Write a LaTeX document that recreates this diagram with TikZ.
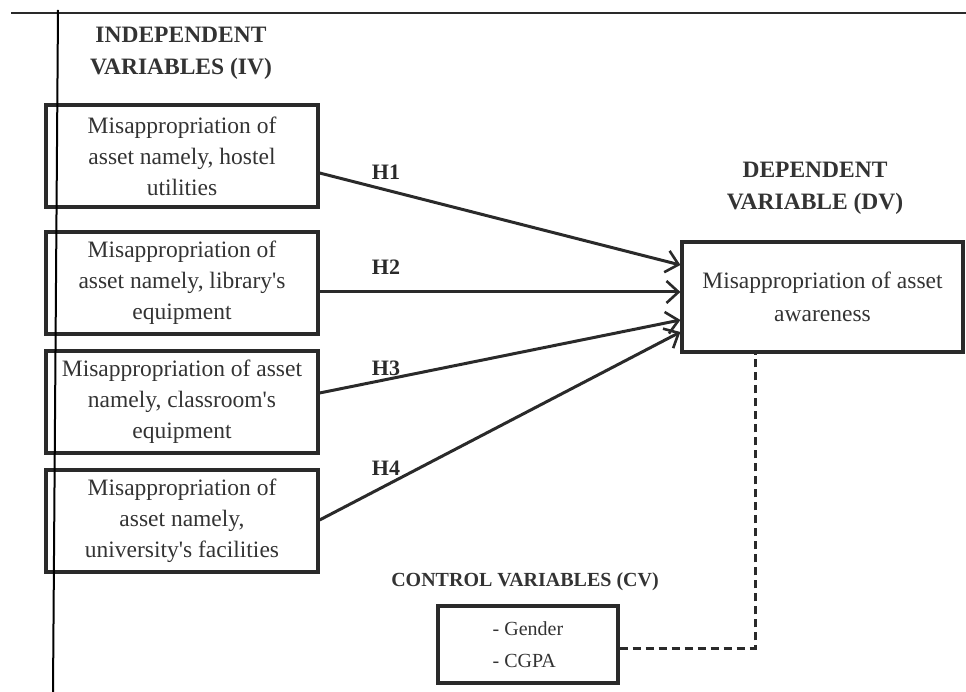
\documentclass[tikz,border=0pt]{standalone}
\usepackage{fontspec}
\setmainfont{Liberation Serif}
\usetikzlibrary{arrows.meta}
\definecolor{ink}{HTML}{2A2A2A}
\definecolor{txt}{HTML}{333333}
\begin{document}
\begin{tikzpicture}[x=1pt,y=-1pt,
  varbox/.style={draw=ink, line width=3.2pt, minimum width=272pt, minimum height=102pt,
    inner sep=0pt, align=center, text=txt, font=\fontsize{23.5}{31}\selectfont},
  dvbox/.style={draw=ink, line width=3.2pt, minimum width=281pt, minimum height=110pt,
    inner sep=0pt, align=center, text=txt, font=\fontsize{23.5}{33}\selectfont},
  cvbox/.style={draw=ink, line width=3.2pt, minimum width=180pt, minimum height=77pt,
    inner sep=0pt, align=left, text=txt, font=\fontsize{20}{32}\selectfont},
  title/.style={align=center, text=txt, inner sep=0pt, font=\bfseries\fontsize{23.5}{32}\selectfont},
  ctitle/.style={align=center, text=txt, inner sep=0pt, font=\bfseries\fontsize{20}{24}\selectfont},
  hlab/.style={text=ink, inner sep=0pt, font=\bfseries\fontsize{22}{24}\selectfont},
  link/.style={draw=ink, line width=3pt, -{Straight Barb[length=12pt,width=22pt,line width=2.6pt]}},
  ctrl/.style={draw=ink, line width=3pt, dash pattern=on 8pt off 5pt}]
\useasboundingbox (0,0) rectangle (966,692);

% frame lines
\coordinate (tl) at (11,13);
\coordinate (tr) at (966,13);
\coordinate (vt) at (58,10);
\coordinate (vb) at (53,692);
\draw[ink, line width=2.8pt] (tl) -- (tr);

% titles
\node[title] (ivt) at (181,53) {INDEPENDENT\\VARIABLES (IV)};
\node[title] (dvt) at (815,188) {DEPENDENT\\VARIABLE (DV)};
\node[ctitle] (cvt) at (525,582) {CONTROL VARIABLES (CV)};

% boxes
\node[varbox] (b1) at (182,156) {Misappropriation of\\asset namely, hostel\\utilities};
\node[varbox] (b2) at (182,283) {Misappropriation of\\asset namely, library\textquotesingle s\\equipment};
\node[varbox] (b3) at (182,402) {Misappropriation of asset\\namely, classroom\textquotesingle s\\equipment};
\node[varbox] (b4) at (182,521) {Misappropriation of\\asset namely,\\university\textquotesingle s facilities};
\node[dvbox] (dv) at (822.5,297) {Misappropriation of asset\\awareness};
\node[cvbox] (cv) at (528,644.5) {- Gender\\- CGPA};

% connectors
\draw[link] ([yshift=-17pt]b1.east) -- ([yshift=32pt]dv.west);
\draw[link] ([yshift=-9pt]b2.east) -- ([yshift=5pt]dv.west);
\draw[link] ([yshift=9pt]b3.east) -- ([yshift=-23pt]dv.west);
\draw[link] ([yshift=1pt]b4.east) -- ([yshift=-35pt]dv.west);
\draw[ctrl] ([yshift=-3.5pt]cv.east) -| ([xshift=-67.5pt]dv.south);

% labels
\node[hlab] (h1) at (386,172) {H1};
\node[hlab] (h2) at (386,267) {H2};
\node[hlab] (h3) at (386,368) {H3};
\node[hlab] (h4) at (386,468) {H4};

% vertical line on top
\draw[black, line width=2pt] (vt) -- (vb);
\end{tikzpicture}
\end{document}
